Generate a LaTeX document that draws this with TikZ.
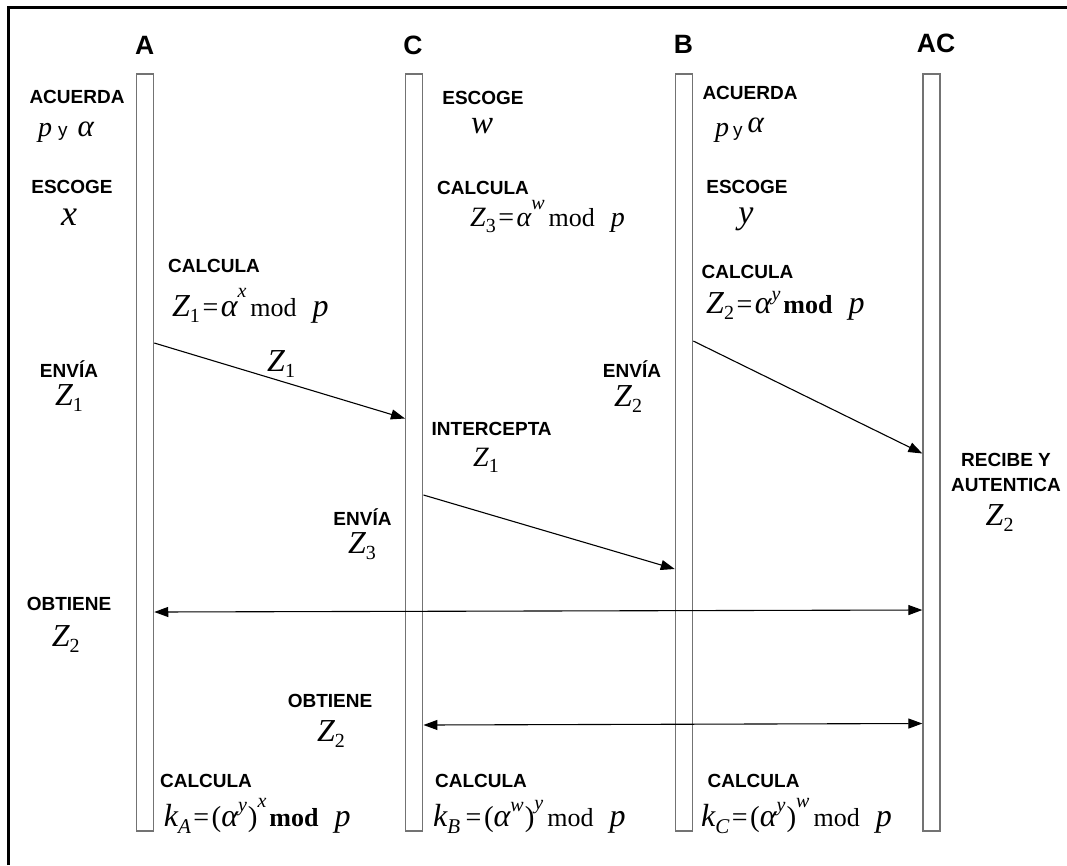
\documentclass[tikz,border=0pt]{standalone}
\usepackage{fontspec}
\setmainfont{Liberation Serif}
\newfontfamily\hv{Liberation Sans}
\usetikzlibrary{arrows.meta}
\newcommand\fs{32}
\newcommand\V[1]{{\fontsize{\fs}{\fs}\selectfont\itshape #1}}
\newcommand\al{{\fontsize{\fs}{\fs}\selectfont\itshape α}}
\newcommand\eq{\hspace{2.5pt}{\fontsize{28}{28}\selectfont =}\hspace{2.5pt}}
\newcommand\lp{{\fontsize{29}{29}\selectfont (}}
\newcommand\rp{\hspace{1pt}{\fontsize{29}{29}\selectfont )}}
\newcommand\Sb[1]{\raisebox{-6pt}{\fontsize{20}{20}\selectfont #1}}
\newcommand\Si[1]{\raisebox{-7pt}{\fontsize{21}{21}\selectfont\itshape #1}}
\newcommand\Sp[2][18]{\raisebox{#1pt}{\fontsize{20}{20}\selectfont\itshape #2}}
\newcommand\md{\hspace{4pt}{\fontsize{26}{26}\selectfont mod}\hspace{16pt}}
\newcommand\bmd{\hspace{3pt}{\fontsize{26}{26}\selectfont\bfseries mod}\hspace{16pt}}
\begin{document}
\begin{tikzpicture}[x=1pt,y=-1pt,
  lbl/.style={font=\hv\bfseries\fontsize{19}{19}\selectfont, inner sep=0},
  head/.style={font=\hv\bfseries\fontsize{26.5}{26.5}\selectfont, inner sep=0},
  bar/.style={draw=black!55, line width=1.5pt, fill=white, minimum width=17pt, minimum height=757pt, inner sep=0},
  msg/.style={line width=1.1pt, -{Triangle[length=14pt,width=10pt]}},
  dmsg/.style={line width=1.1pt, {Triangle[length=14pt,width=10pt]}-{Triangle[length=14pt,width=10pt]}},
  fml/.style={anchor=base west, inner sep=0}]
\useasboundingbox (0,0) rectangle (1067,865);
% frame (top and left edges)
\draw[line width=3pt] (8,865) -- (8,7.5) -- (1067,7.5);
% lifelines
\node[bar] (barA) at (145,452.5) {};
\node[bar] (barC) at (414.2,452.5) {};
\node[bar] (barB) at (684,452.5) {};
\node[bar] (barAC) at (931.6,452.5) {};
% headings
\node[head] (hA) at (144.6,45.5) {A};
\node[head] (hC) at (413,45.5) {C};
\node[head] (hB) at (683.4,44.5) {B};
\node[head] (hAC) at (936,43.5) {AC};
% column A
\node[lbl] (acA) at (77,97) {ACUERDA};
\node[fml] (pyA) at (38,136) {{\fontsize{28}{28}\selectfont\itshape p}\hspace{6pt}{\hv\fontsize{19}{19}\selectfont y}\hspace{10pt}{\fontsize{31}{31}\selectfont\itshape α}};
\node[lbl] (esA) at (72,186.5) {ESCOGE};
\node[inner sep=0, anchor=base] (xA) at (69,225) {\fontsize{36}{36}\selectfont\itshape x};
\node[lbl] (calA) at (214,266) {CALCULA};
\node[fml] (fA) at (172,316.7) {\V{Z}\Sb{1}\eq\al\Sp[19]{x}\md\V{p}};
\node[lbl] (enA) at (69,369) {ENVÍA};
\node[fml] (zA) at (55,405) {\V{Z}\Sb{1}};
\node[lbl] (obA) at (69,604) {OBTIENE};
\node[fml] (zA2) at (51.6,646) {\V{Z}\Sb{2}};
\node[lbl] (calA2) at (206,780.5) {CALCULA};
\node[fml] (kA) at (163.6,826.7) {\V{k}\Si{A}\eq\lp\al\Sp[15]{y}\rp\Sp[19]{x}\bmd\V{p}};
% column C
\node[lbl] (esC) at (483,97.5) {ESCOGE};
\node[inner sep=0, anchor=base] (wC) at (482,133) {\fontsize{33}{33}\selectfont\itshape w};
\node[lbl] (calC) at (483,187.5) {CALCULA};
\node[fml] (fC) at (470,226) {\renewcommand\fs{28}\V{Z}\Sb{3}\eq\al\Sp[17]{w}\md\V{p}};
\node[lbl] (inC) at (491.7,429) {INTERCEPTA};
\node[fml] (zC) at (473,466) {\renewcommand\fs{28}\V{Z}\Sb{1}};
\node[lbl] (enC) at (362.5,516.7) {ENVÍA};
\node[fml] (zC3) at (347.8,553) {\V{Z}\Sb{3}};
\node[lbl] (obC) at (330,700.5) {OBTIENE};
\node[fml] (zC2) at (316.8,741) {\V{Z}\Sb{2}};
\node[lbl] (calC2) at (481,780.5) {CALCULA};
\node[fml] (kB) at (433,826) {\V{k}\Si{B}\hspace{3pt}\eq\lp\al\Sp[15]{w}\rp\Sp[17]{y}\md\V{p}};
% column B
\node[lbl] (acB) at (750,93) {ACUERDA};
\node[fml] (pyB) at (715,136) {{\fontsize{28}{28}\selectfont\itshape p}\hspace{4pt}{\hv\fontsize{19}{19}\selectfont y}\hspace{5pt}\raisebox{4pt}{\fontsize{31}{31}\selectfont\itshape α}};
\node[lbl] (esB) at (747,186.5) {ESCOGE};
\node[inner sep=0, anchor=base] (yB) at (746,223) {\fontsize{34}{34}\selectfont\itshape y};
\node[lbl] (calB) at (747.5,272) {CALCULA};
\node[fml] (fB) at (706,313) {\V{Z}\Sb{2}\eq\al\Sp[13]{y}\bmd\V{p}};
\node[lbl] (enB) at (632,369) {ENVÍA};
\node[fml] (zB) at (614,406) {\V{Z}\Sb{2}};
\node[lbl] (calB2) at (753.6,781) {CALCULA};
\node[fml] (kC) at (701,826) {\V{k}\Si{C}\eq\lp\al\Sp[15]{y}\rp\Sp[19]{w}\md\V{p}};
% column AC
\node[lbl] (reAC) at (1006,460) {RECIBE Y};
\node[lbl] (auAC) at (1006,485) {AUTENTICA};
\node[fml] (zAC) at (985.5,525) {\V{Z}\Sb{2}};
% messages
\draw[msg] (barA.east |- 0,343) -- (barC.west |- 0,418.5);
\node[fml] (lz1) at (267,371.7) {\V{Z}\Sb{1}};
\draw[msg] (barB.east |- 0,341) -- (barAC.west |- 0,453.5);
\draw[msg] (barC.east |- 0,495) -- (barB.west |- 0,569);
\draw[dmsg] (barA.east |- 0,612) -- (barAC.west |- 0,610);
\draw[dmsg] (barC.east |- 0,725) -- (barAC.west |- 0,723.5);
\end{tikzpicture}
\end{document}
